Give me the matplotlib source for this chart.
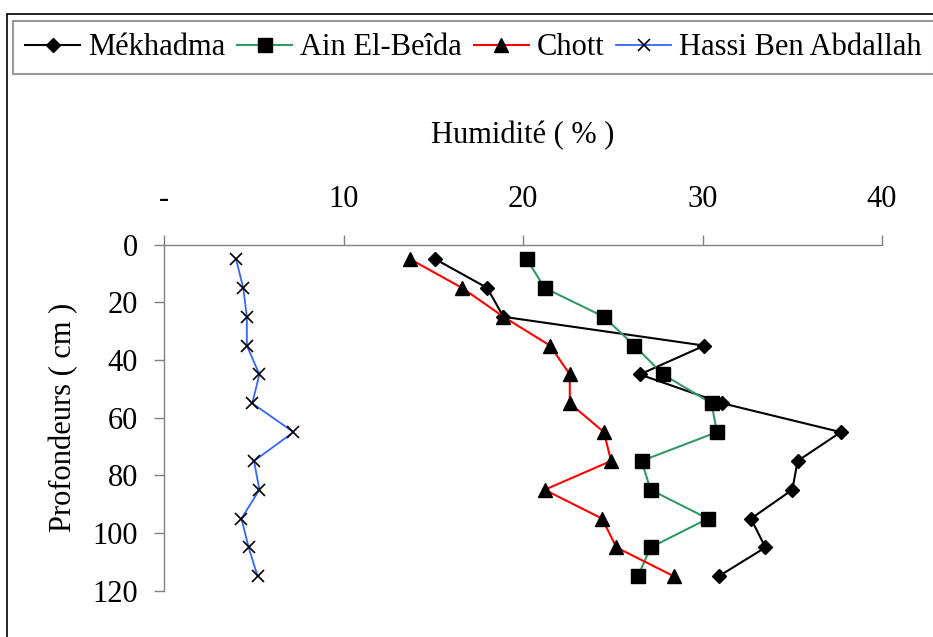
import matplotlib
matplotlib.use("Agg")
import matplotlib.pyplot as plt
from matplotlib.patches import Rectangle

plt.rcParams['font.family'] = ['Liberation Serif', 'DejaVu Serif']

depths = [5, 15, 25, 35, 45, 55, 65, 75, 85, 95, 105, 115]
mekhadma = [15.1, 18.0, 18.9, 30.1, 26.5, 31.1, 37.7, 35.3, 35.0, 32.7, 33.5, 30.9]
ain_el_beida = [20.2, 21.2, 24.5, 26.2, 27.8, 30.5, 30.8, 26.6, 27.1, 30.3, 27.1, 26.4]
chott = [13.7, 16.6, 18.9, 21.5, 22.6, 22.6, 24.5, 24.9, 21.2, 24.4, 25.2, 28.4]
hassi = [4.0, 4.4, 4.6, 4.6, 5.3, 4.9, 7.2, 5.0, 5.3, 4.3, 4.7, 5.2]

x_ticks = [0, 10, 20, 30, 40]
x_ticklabels = ['-', '10', '20', '30', '40']
y_ticks = [0, 20, 40, 60, 80, 100, 120]

W, H = 933, 637
fig = plt.figure(figsize=(W / 100, H / 100), dpi=100)
ax = fig.add_axes([164.3 / W, 1 - 590.7 / H, (882 - 164.3) / W, (590.7 - 244.7) / H])

ax.plot(mekhadma, depths, color='black', lw=1.5, marker='D', ms=7,
        mfc='black', mec='black', label='Mékhadma')
ax.plot(ain_el_beida, depths, color='#339966', lw=1.5, marker='s', ms=10,
        mfc='black', mec='black', label='Ain El-Beîda')
ax.plot(chott, depths, color='red', lw=1.5, marker='^', ms=9.5,
        mfc='black', mec='black', label='Chott')
ax.plot(hassi, depths, color='#3366ff', lw=1.3, marker='x', ms=8.5,
        mec='black', mew=1.2, label='Hassi Ben Abdallah')

ax.set_xlim(0, 40)
ax.set_ylim(120, 0)
ax.xaxis.tick_top()
ax.xaxis.set_label_position('top')
ax.set_xticks(x_ticks)
ax.set_xticklabels(x_ticklabels)
ax.set_yticks(y_ticks)

for s in ['right', 'bottom']:
    ax.spines[s].set_visible(False)
for s in ['left', 'top']:
    ax.spines[s].set_color('#808080')
    ax.spines[s].set_linewidth(1.0)

ax.tick_params(axis='x', direction='out', length=7, width=1, color='#808080',
               labelsize=22, pad=15)
ax.tick_params(axis='y', direction='out', length=7, width=1, color='#808080',
               labelsize=22, pad=12)

ax.set_xlabel('Humidité ( % )', fontsize=22, labelpad=30)
ax.set_ylabel('Profondeurs ( cm )', fontsize=22, labelpad=10)

leg = fig.legend(loc='upper left', bbox_to_anchor=(13 / W, 1 - 21 / H),
                 bbox_transform=fig.transFigure, ncol=4, fontsize=22,
                 frameon=True, fancybox=False, borderaxespad=0,
                 handlelength=1.8, handletextpad=0.25, columnspacing=0.4,
                 borderpad=0.4)
leg.get_frame().set_edgecolor('#808080')
leg.get_frame().set_linewidth(1.5)

fig.patches.append(Rectangle((7 / W, -0.1), 1.2, 1 - 14 / H + 0.1,
                             transform=fig.transFigure, fill=False,
                             edgecolor='black', lw=1.2, zorder=0))

fig.savefig('out.png', dpi=100)
